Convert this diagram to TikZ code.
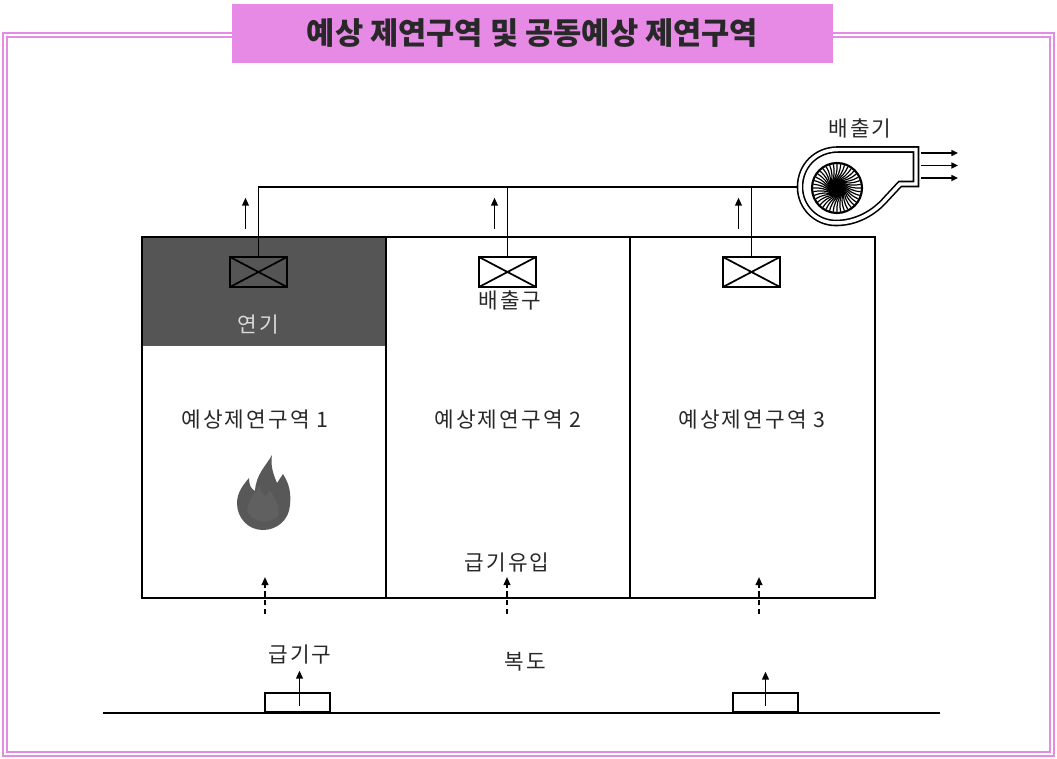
\documentclass[tikz,border=0pt]{standalone}
\usepackage{fontspec}
\setmainfont{Noto Sans CJK KR}
\usetikzlibrary{arrows.meta,positioning,calc}
\definecolor{titlepink}{RGB}{230,138,230}
\definecolor{framepink}{RGB}{228,140,228}
\definecolor{smokegray}{RGB}{85,85,85}
\definecolor{firegray}{RGB}{88,88,88}
\definecolor{inkgray}{RGB}{40,40,40}
\tikzset{
    wall/.style={line width=1.6pt},
    duct/.style={line width=1.1pt},
    damper/.style={rectangle, draw, line width=2pt, inner sep=0pt,
                   minimum width=42.75pt, minimum height=22.5pt,
                   path picture={\draw[line width=1.3pt]
                     (path picture bounding box.north west) -- (path picture bounding box.south east)
                     (path picture bounding box.south west) -- (path picture bounding box.north east);}},
    vent/.style={rectangle, draw, line width=1.4pt, inner sep=0pt,
                 minimum width=48.75pt, minimum height=14.25pt},
    arr/.style={-{Triangle[length=6pt,width=5pt]}, line width=1.3pt},
    darr/.style={arr, dash pattern=on 4pt off 2.5pt},
    lbl/.style={font=\fontsize{16}{18}\selectfont\addfontfeatures{LetterSpace=10},
                text=inkgray, inner sep=0pt},
}

\begin{document}
\begin{tikzpicture}[x=0.75pt,y=-0.75pt]
    \useasboundingbox (0,0) rectangle (1057,759);

    % pink double frame and title
    \draw[framepink, line width=1.2pt] (3,33) rectangle (1054,756);
    \draw[framepink, line width=1.2pt] (7,37) rectangle (1050,752);
    \node[fill=titlepink, minimum width=450.75pt, minimum height=44.25pt, inner sep=0pt,
          font=\fontsize{23}{26}\selectfont\bfseries, text=inkgray]
          (title) at (532.5,33.5) {예상 제연구역 및 공동예상 제연구역};

    % smoke layer and zone walls
    \fill[smokegray] (142,237) rectangle (386,346);
    \draw[wall] (142,237) rectangle (875,598);
    \draw[wall] (386,237) -- (386,598);
    \draw[wall] (630,237) -- (630,598);

    % exhaust dampers and duct
    \node[damper] (d1) at (258.5,272) {};
    \node[damper] (d2) at (507.5,272) {};
    \node[damper] (d3) at (751.5,272) {};
    \coordinate (fanin) at (798,187);
    \draw[duct] (d1.north) |- (fanin);
    \draw[duct] (d2.north) -- (d2.north |- fanin);
    \draw[duct] (d3.north) -- (d3.north |- fanin);
    \foreach \d in {d1,d2,d3}
        \draw[arr] ($(\d.north)+(-13,-27)$) -- ++(0,-31);

    % exhaust fan
    \draw[line width=1.2pt, double=white, double distance=2.6pt]
        (900,184) -- (886,199) .. controls (874,213) and (856,223) .. (836,223)
        .. controls (816,223) and (800,207) .. (800,187)
        .. controls (800,166) and (816,149.5) .. (838,149.5) -- (916,149.5) -- (916,184) -- cycle;
    \begin{scope}[shift={(837,188)}]
        \draw[line width=1.6pt] (0,0) circle (25);
        \foreach \a in {0,9,...,351}
            \draw[line width=0.9pt] (\a:7) to[bend right=18] (\a+45:24);
        \fill (0,0) circle (8);
    \end{scope}
    \coordinate (fanout) at (921,165.5);
    \foreach \dy in {-12.5,0,12.5}
        \draw[arr, line width=1.1pt, -{Triangle[length=5pt,width=4.5pt]}]
            ($(fanout)+(0,\dy)$) -- ++(37,0);
    \node[lbl] (fan) at (860,128) {배출기};

    % fire
    \fill[firegray] (237,503) .. controls (237,492) and (244,484) .. (249,478)
        .. controls (249,485) and (251,489) .. (255,491)
        .. controls (256,474) and (266,466) .. (272,455)
        .. controls (270,466) and (274,476) .. (277,483)
        .. controls (279,480) and (281,477) .. (283,474)
        .. controls (290,485) and (291,494) .. (290,505)
        .. controls (289,520) and (277,530) .. (263,530)
        .. controls (248,530) and (237,518) .. (237,503) -- cycle;
    \fill[gray!75!black] (247,510) .. controls (249,498) and (256,494) .. (259,486)
        .. controls (262,496) and (268,500) .. (269,490)
        .. controls (276,498) and (280,508) .. (278,516)
        .. controls (270,524) and (252,524) .. (247,510) -- cycle;

    % floor with supply vents
    \draw[line width=1.3pt] (103,713) -- (940,713);
    \node[vent, anchor=south] (v1) at (297.5,713) {};
    \node[vent, anchor=south] (v2) at (765.5,713) {};
    \draw[arr] ($(v1.center)+(2,3)$) -- ++(0,-35);
    \draw[arr] ($(v2.center)+(0,3)$) -- ++(0,-34);

    % supply air into the zones
    \foreach \x in {265,507,759}
        \draw[darr] (\x,614) -- (\x,577);

    % labels
    \node[lbl, text=gray!30] (smoke) at (258,325) {연기};
    \node[lbl] (outlet) at (510,300) {배출구};
    \node[lbl] (z1) at (255,420) {예상제연구역 1};
    \node[lbl] (z2) at (508,420) {예상제연구역 2};
    \node[lbl] (z3) at (752,420) {예상제연구역 3};
    \node[lbl] (inflow) at (507,563) {급기유입};
    \node[lbl] (inlet) at (300,655) {급기구};
    \node[lbl] (hall) at (525,662) {복도};
\end{tikzpicture}
\end{document}
